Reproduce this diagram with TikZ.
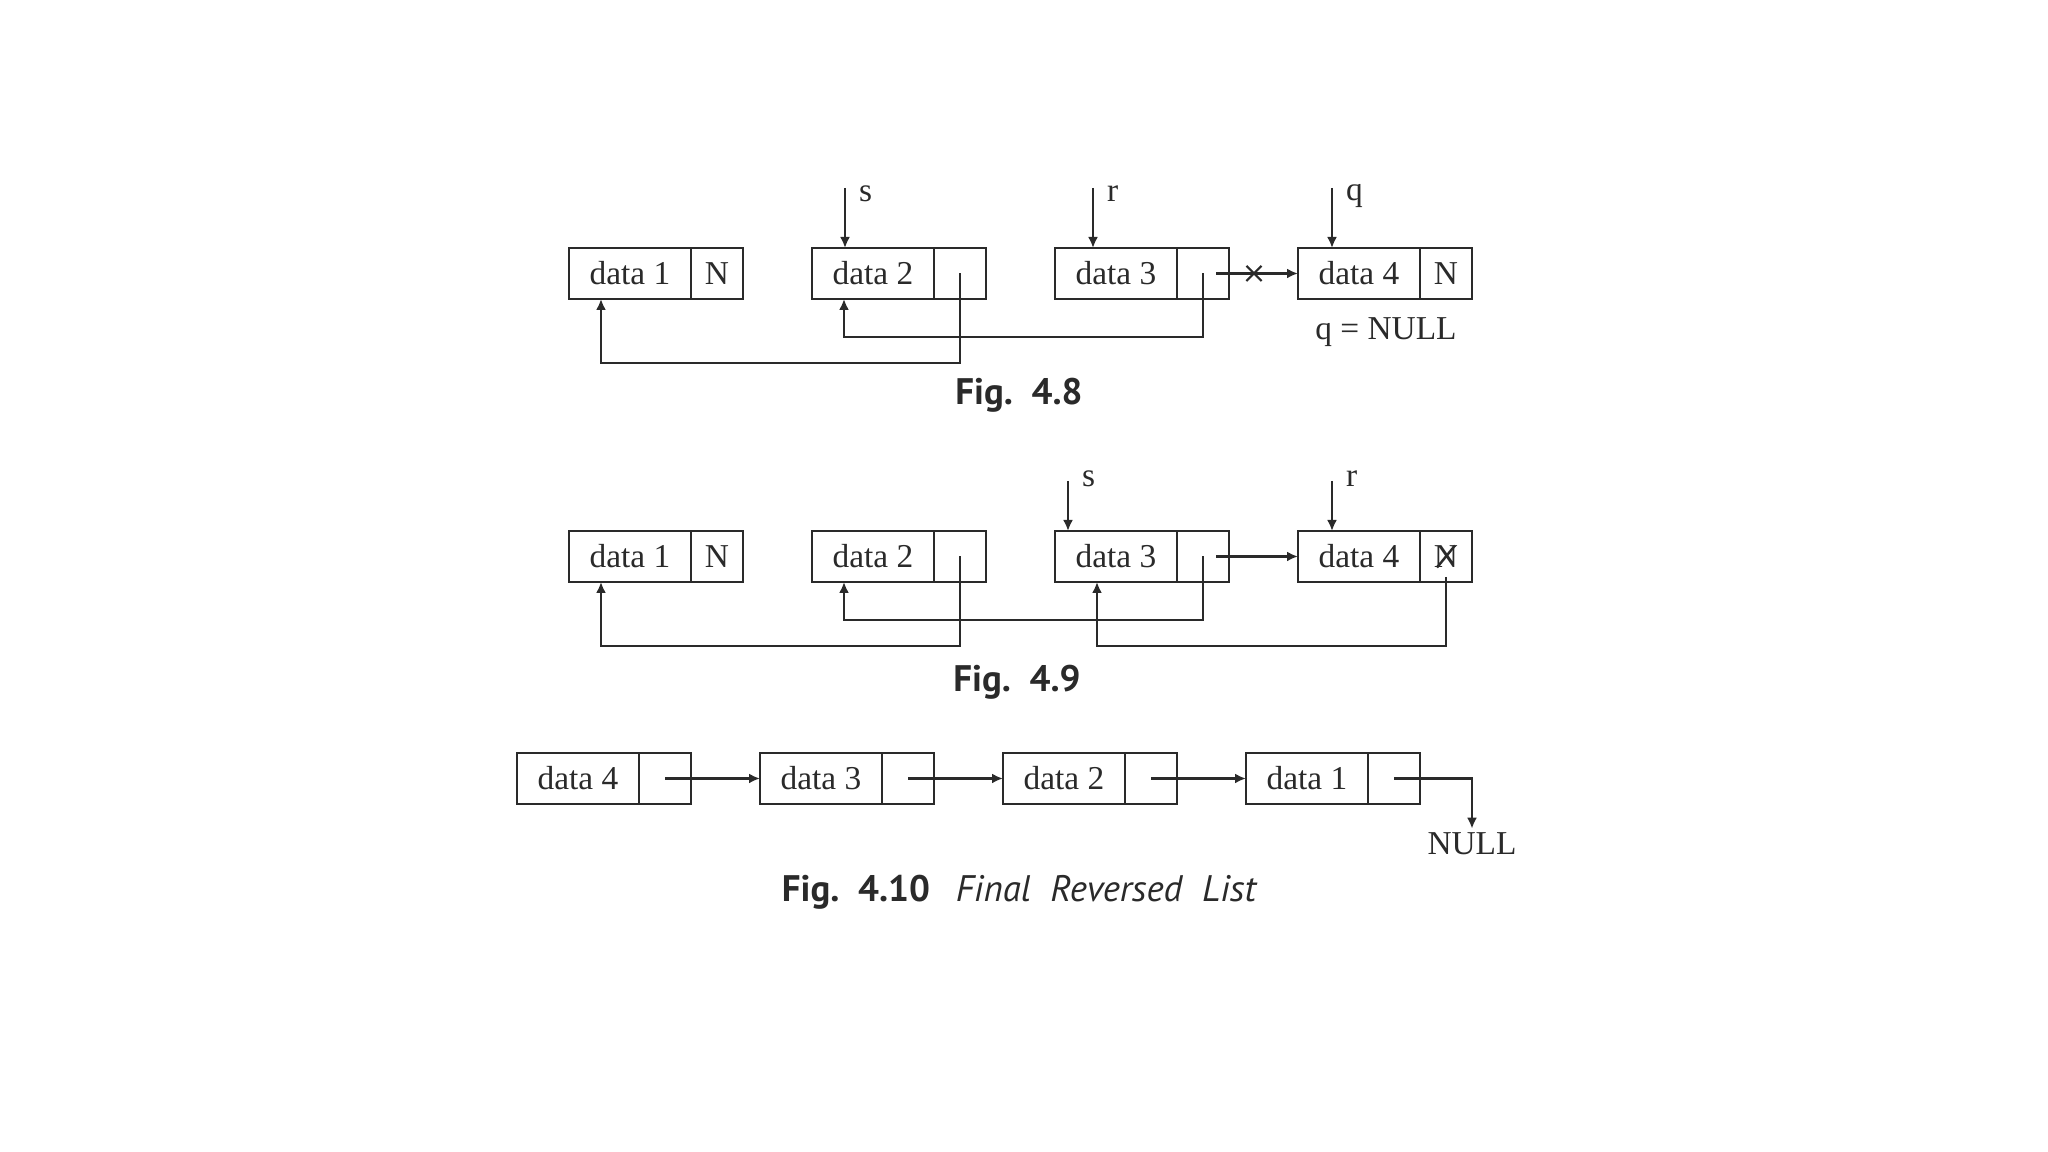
\documentclass[tikz,border=0pt]{standalone}
\usepackage{fontspec}
\setmainfont{Liberation Serif}
\newfontfamily\capfont{PT Sans}
\definecolor{inkGray}{HTML}{2A2A2A}
\usetikzlibrary{arrows.meta, positioning, shapes.misc}

\tikzset{
  cell/.style={draw, line width=0.8pt, minimum height=0.51cm, inner sep=0pt, outer sep=0pt, font=\fontsize{9.5}{11}\selectfont},
  datacell/.style={cell, minimum width=1.22cm},
  ptrcell/.style={cell, minimum width=0.52cm},
  ptr/.style={line width=0.8pt, -{Latex[length=1.1mm, width=1mm]}},
  lbl/.style={font=\fontsize{9.5}{11}\selectfont, inner sep=1pt},
  figcap/.style={font=\capfont\bfseries\fontsize{10.5}{12}\selectfont},
}

\begin{document}
\begin{tikzpicture}[color=inkGray]
  \useasboundingbox (0,0) rectangle (20.48,11.52);

  % Fig. 4.8
  \node[datacell] (a1) at (6.30,8.785) {data 1};
  \node[ptrcell, right=0pt of a1] (a1p) {N};
  \node[datacell, right=0.69cm of a1p] (a2) {data 2};
  \node[ptrcell, right=0pt of a2] (a2p) {};
  \node[datacell, right=0.69cm of a2p] (a3) {data 3};
  \node[ptrcell, right=0pt of a3] (a3p) {};
  \node[datacell, right=0.69cm of a3p] (a4) {data 4};
  \node[ptrcell, right=0pt of a4] (a4p) {N};
  \node[lbl] (qnull) at (13.86,8.20) {q = NULL};

  \coordinate (sA) at ([xshift=0.33cm, yshift=0.6cm]a2.north west);
  \coordinate (rA) at ([xshift=0.38cm, yshift=0.6cm]a3.north west);
  \coordinate (qA) at ([xshift=0.34cm, yshift=0.6cm]a4.north west);
  \draw[ptr] (sA) -- (sA |- a2.north);
  \draw[ptr] (rA) -- (rA |- a3.north);
  \draw[ptr] (qA) -- (qA |- a4.north);
  \node[lbl, anchor=west] (sAl) at ([xshift=0.1cm, yshift=-0.06cm]sA) {s};
  \node[lbl, anchor=west] (rAl) at ([xshift=0.1cm, yshift=-0.06cm]rA) {r};
  \node[lbl, anchor=west] (qAl) at ([xshift=0.1cm, yshift=-0.08cm]qA) {q};

  \draw[ptr] (a2p.center) -- ++(0,-0.895) -| ([xshift=0.32cm]a1.south west);
  \draw[ptr] (a3p.center) -- ++(0,-0.635) -| ([xshift=0.32cm]a2.south west);
  \draw[ptr] ([xshift=-0.13cm]a3p.east) -- (a4.west);
  \node[cross out, draw, minimum size=1.3mm, inner sep=0pt, line width=0.6pt] (cutA) at ([xshift=0.25cm]a3p.east) {};

  \node[figcap] (fig8) at (10.19,7.57) {Fig.\ \ 4.8};

  % Fig. 4.9
  \node[datacell] (b1) at (6.30,5.955) {data 1};
  \node[ptrcell, right=0pt of b1] (b1p) {N};
  \node[datacell, right=0.69cm of b1p] (b2) {data 2};
  \node[ptrcell, right=0pt of b2] (b2p) {};
  \node[datacell, right=0.69cm of b2p] (b3) {data 3};
  \node[ptrcell, right=0pt of b3] (b3p) {};
  \node[datacell, right=0.69cm of b3p] (b4) {data 4};
  \node[ptrcell, right=0pt of b4] (b4p) {N};
  \draw[line width=0.7pt] ([shift={(0.09,0.11)}]b4p.center) -- ([shift={(-0.09,-0.11)}]b4p.center);

  \coordinate (sB) at ([xshift=0.13cm, yshift=0.5cm]b3.north west);
  \coordinate (rB) at ([xshift=0.34cm, yshift=0.5cm]b4.north west);
  \draw[ptr] (sB) -- (sB |- b3.north);
  \draw[ptr] (rB) -- (rB |- b4.north);
  \node[lbl, anchor=west] (sBl) at ([xshift=0.1cm, yshift=0.02cm]sB) {s};
  \node[lbl, anchor=west] (rBl) at ([xshift=0.1cm, yshift=0.02cm]rB) {r};

  \draw[ptr] (b2p.center) -- ++(0,-0.895) -| ([xshift=0.32cm]b1.south west);
  \draw[ptr] (b3p.center) -- ++(0,-0.635) -| ([xshift=0.32cm]b2.south west);
  \draw[ptr] ([yshift=0.05cm]b4p.south) -- ++(0,-0.69) -| ([xshift=0.42cm]b3.south west);
  \draw[ptr] ([xshift=-0.13cm]b3p.east) -- (b4.west);

  \node[figcap] (fig9) at (10.17,4.70) {Fig.\ \ 4.9};

  % Fig. 4.10
  \node[datacell] (c1) at (5.78,3.735) {data 4};
  \node[ptrcell, right=0pt of c1] (c1p) {};
  \node[datacell, right=0.69cm of c1p] (c2) {data 3};
  \node[ptrcell, right=0pt of c2] (c2p) {};
  \node[datacell, right=0.69cm of c2p] (c3) {data 2};
  \node[ptrcell, right=0pt of c3] (c3p) {};
  \node[datacell, right=0.69cm of c3p] (c4) {data 1};
  \node[ptrcell, right=0pt of c4] (c4p) {};
  \node[lbl] (nullC) at (14.72,3.08) {NULL};

  \draw[ptr] (c1p.center) -- (c2.west);
  \draw[ptr] (c2p.center) -- (c3.west);
  \draw[ptr] (c3p.center) -- (c4.west);
  \draw[ptr] (c4p.center) -| (nullC.north);

  \node[figcap] (fig10) at (10.19,2.60) {Fig.\ \ 4.10\hspace{0.7em}{\mdseries\itshape Final\ \ Reversed\ \ List}};
\end{tikzpicture}
\end{document}
